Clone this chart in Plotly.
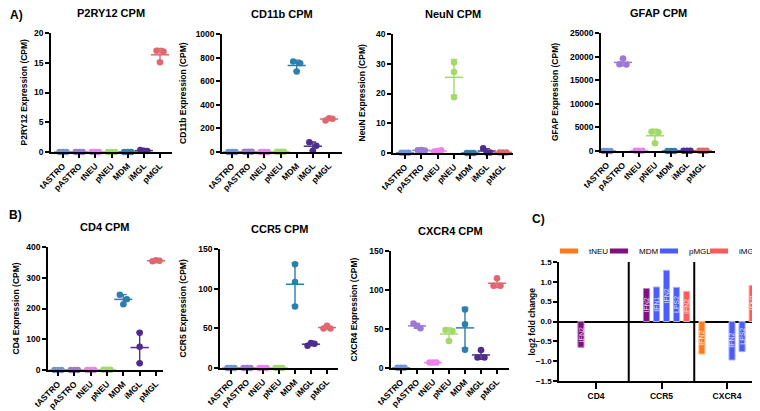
import numpy as np
import plotly.graph_objects as go

# ---- panels A and B: CPM per cell type (3 replicates each) ----
cells = ["tASTRO", "pASTRO", "tNEU", "pNEU", "MDM", "iMGL", "pMGL"]
cell_colors = ["#7094DA", "#9C7AD3", "#EC80EC", "#A3D96B", "#2B7FAD", "#4E2D8D", "#E0676F"]

p2ry12 = [[0, 0, 0], [0, 0, 0], [0, 0, 0], [0, 0, 0], [0, 0, 0], [0.35, 0.2, 0.15], [17.0, 16.9, 15.1]]
cd11b = [[1, 1, 1], [2, 2, 2], [1, 1, 1], [3, 3, 3], [766, 752, 682], [82, 54, 11], [268, 287, 282]]
neun = [[0.1, 0.1, 0.1], [0.9, 1.0, 0.8], [0.5, 0.7, 0.9], [30.4, 27.2, 18.7], [0, 0, 0], [1.6, 0.2, 0.2], [0.2, 0.2, 0.2]]
gfap = [[20, 20, 20], [19600, 18400, 18300], [30, 30, 30], [4100, 3970, 1630], [10, 10, 10], [30, 30, 30], [30, 30, 30]]
cd4 = [[0, 0, 0], [0, 0, 0], [0, 0, 0], [1, 1, 1], [245, 230, 214], [121, 76, 22], [354, 357, 355]]
ccr5 = [[0, 0, 0], [0, 0, 0], [0, 0, 0], [0, 0, 0], [130.7, 108.5, 77.5], [28, 31.4, 30.6], [49.9, 53.2, 49.9]]
cxcr4 = [[0.3, 0.3, 0.3], [57, 54, 51], [7, 7, 7], [48.7, 47.5, 34.7], [75, 56, 23.3], [23, 13.6, 13.6], [115, 105.5, 105.5]]

genes = ["P2RY12", "CD11b", "NeuN", "GFAP", "CD4", "CCR5", "CXCR4"]
gene_values = [p2ry12, cd11b, neun, gfap, cd4, ccr5, cxcr4]
y_max = [20, 1000, 40, 25000, 400, 150, 150]
y_step = [5, 200, 10, 5000, 100, 50, 50]

# ---- panel C: log2 fold change ----
fc_genes = ["CD4", "CCR5", "CXCR4"]
fc_cell = ["tNEU", "MDM", "pMGL", "pMGL", "pMGL", "iMGL"]
fc_treat = ["IFN2", "IFN2", "IFN1", "IFN2", "LPS2", "IFN2"]
fc_values = [
    [None, None, -0.82],
    [-0.65, 0.83, None],
    [None, 0.87, None],
    [None, 1.29, -0.97],
    [None, 0.86, -0.76],
    [None, 0.76, 0.91],
]
fc_legend = ["tNEU", "MDM", "pMGL", "iMGL"]
fc_colors = {"tNEU": "#FA7B1C", "MDM": "#7E1180", "pMGL": "#4A5CFB", "iMGL": "#FB5B5B"}
fc_edges = {"tNEU": "#FDB98A", "MDM": "#B97CBB", "pMGL": "#A3ACFD", "iMGL": "#FDA9A9"}

# the page body has an 8px margin, so the figure is drawn 8px in from the window corner
PAGE_PAD = 8
W, H = 760 - PAGE_PAD, 411 - PAGE_PAD
FONT = "Liberation Sans, Arial, sans-serif"
BARGAP = 0.08

# plot boxes in window pixels: left, right, top, bottom, first category x, last category x
boxes = [
    (51, 172, 33, 152, 63, 160),
    (222, 342, 34, 152, 232, 329),
    (393, 513, 34, 153, 405, 503),
    (601, 715, 33, 151, 607, 703),
    (48, 163, 247, 370, 58, 156),
    (220, 338, 249, 368, 231, 327),
    (391, 509, 251, 368, 401, 497),
]
box_c = (559, 760, 262, 381, 596, 727)
ytitle_x = [23, 183, 362, 555, 15, 182, 353]


def fx(p):
    return (p - PAGE_PAD) / W


def fy(p):
    return 1 - (p - PAGE_PAD) / H


def label(text, px, py, size, angle=0):
    return dict(text=text, x=fx(px), y=fy(py), xref="paper", yref="paper",
                xanchor="center", yanchor="middle", showarrow=False, textangle=angle,
                font=dict(size=size, family=FONT, color="black", weight="bold"))


def swarm(v, px_per_unit, gap=5.0, span=7.0):
    # prism-like spreading of overlapping dots (pixel offsets)
    off = np.zeros(len(v))
    order = sorted(range(len(v)), key=lambda i: -v[i])
    rows = []
    for i in order:
        if rows and (v[rows[-1][0]] - v[i]) * px_per_unit < gap:
            rows[-1].append(i)
        else:
            rows.append([i])
    for row in rows:
        if len(row) > 1:
            row.sort()
            off[row] = np.linspace(-span / 2, span / 2, len(row))
    return off


fig = go.Figure()
bold = dict(family=FONT, color="black", weight="bold")
annotations = []
layout = {}

for g, vals in enumerate(gene_values):
    left, right, top, bottom, first, last = boxes[g]
    sp = (last - first) / 6
    ppu = (bottom - top) / y_max[g]
    sfx = "" if g == 0 else str(g + 1)
    for c in range(len(cells)):
        v = np.array(vals[c], float)
        x = c + swarm(v, ppu) / sp
        fig.add_trace(go.Scatter(
            x=x, y=v, mode="markers", xaxis="x" + sfx, yaxis="y" + sfx,
            marker=dict(size=6.5, color=cell_colors[c]),
            cliponaxis=False, showlegend=False, name=cells[c]))
        fig.add_trace(go.Scatter(
            x=[c], y=[v.mean()], mode="markers", xaxis="x" + sfx, yaxis="y" + sfx,
            marker=dict(symbol="line-ew", size=13, line=dict(width=1.5, color=cell_colors[c])),
            error_y=dict(type="data", array=[v.std(ddof=1)], width=3.3, thickness=1.4,
                         color=cell_colors[c]),
            cliponaxis=False, showlegend=False, name=cells[c]))

    layout["xaxis" + sfx] = dict(
        domain=[fx(left), fx(right)], anchor="y" + sfx,
        range=[-(first - left) / sp, 6 + (right - last) / sp],
        tickvals=list(range(7)), ticktext=cells, tickangle=-45,
        showline=True, linecolor="black", linewidth=1.5, ticks="outside",
        ticklen=4, tickwidth=1.5, tickcolor="black", showgrid=False, zeroline=False,
        automargin=False, tickfont=dict(size=8.5, **bold))
    layout["yaxis" + sfx] = dict(
        domain=[fy(bottom), fy(top)], anchor="x" + sfx, range=[0, y_max[g]],
        dtick=y_step[g], tickformat="d", showline=True, linecolor="black", linewidth=1.5,
        ticks="outside", ticklen=4, tickwidth=1.5, tickcolor="black",
        showgrid=False, zeroline=False, automargin=False, tickfont=dict(size=8.5, **bold))
    annotations.append(label(genes[g] + " CPM", (left + right) / 2, top - 20, 11))
    annotations.append(label(genes[g] + " Expression (CPM)", ytitle_x[g],
                             (top + bottom) / 2, 8.5, -90))

# panel C bars, labelled with the treatment
n_slots = len(fc_cell)
slot_w = (1 - BARGAP) / n_slots
for k, cell in enumerate(fc_cell):
    fig.add_trace(go.Bar(
        x=fc_genes, y=fc_values[k], xaxis="x8", yaxis="y8", name=cell,
        marker=dict(color=fc_colors[cell], line=dict(color=fc_edges[cell], width=1)),
        showlegend=False))
    for j, v in enumerate(fc_values[k]):
        if v is None:
            continue
        annotations.append(dict(
            text=fc_treat[k], x=j + (k - (n_slots - 1) / 2) * slot_w, y=v / 2,
            xref="x8", yref="y8", xanchor="center", yanchor="middle",
            showarrow=False, textangle=-90,
            font=dict(family=FONT, size=7, color="rgba(255,255,255,0.8)")))
for cell in fc_legend:
    fig.add_trace(go.Scatter(
        x=[None], y=[None], mode="markers", xaxis="x8", yaxis="y8", name=cell,
        legendwidth=30 if cell == fc_legend[-1] else None,
        marker=dict(symbol="line-ew", size=13, line=dict(width=5, color=fc_colors[cell]))))

left, right, top, bottom, first, last = box_c
sp = (last - first) / 2
layout["xaxis8"] = dict(
    domain=[fx(left), fx(right)], anchor="y8", type="category",
    range=[-(first - left) / sp, 2 + (right - last) / sp],
    showline=True, linecolor="black", linewidth=1.5, ticks="outside", ticklen=6,
    tickwidth=1.5, tickcolor="black", showgrid=False, automargin=False,
    tickfont=dict(size=8.5, **bold))
layout["yaxis8"] = dict(
    domain=[fy(bottom), fy(top)], anchor="x8", range=[-1.5, 1.5], dtick=0.5,
    tickformat=".1f", showline=True, linecolor="black", linewidth=1.5,
    ticks="outside", ticklen=4, tickwidth=1.5, tickcolor="black", showgrid=False,
    zeroline=True, zerolinecolor="black", zerolinewidth=2, automargin=False,
    tickfont=dict(size=8, **bold))
annotations.append(label("log2 fold change", 531, (top + bottom) / 2, 8.5, -90))

shapes = [dict(type="line", xref="x8", yref="y8", x0=s, x1=s, y0=-1.5, y1=1.5,
               line=dict(color="black", width=2)) for s in (0.5, 1.5)]

for txt, px, py in [("A)", 16, 15), ("B)", 15, 215), ("C)", 538, 219)]:
    annotations.append(label(txt, px, py, 12))

fig.update_layout(
    width=W, height=H, margin=dict(l=0, r=0, t=0, b=0, autoexpand=False),
    paper_bgcolor="white", plot_bgcolor="white",
    barmode="group", bargap=BARGAP, bargroupgap=0.4,
    annotations=annotations, shapes=shapes,
    legend=dict(orientation="h", x=fx(549), y=fy(251), xanchor="left", yanchor="middle",
                entrywidth=5, font=dict(family=FONT, size=8, color="black"),
                bgcolor="rgba(0,0,0,0)"),
    font=dict(family=FONT),
    **layout)

fig.write_html("out.html")
